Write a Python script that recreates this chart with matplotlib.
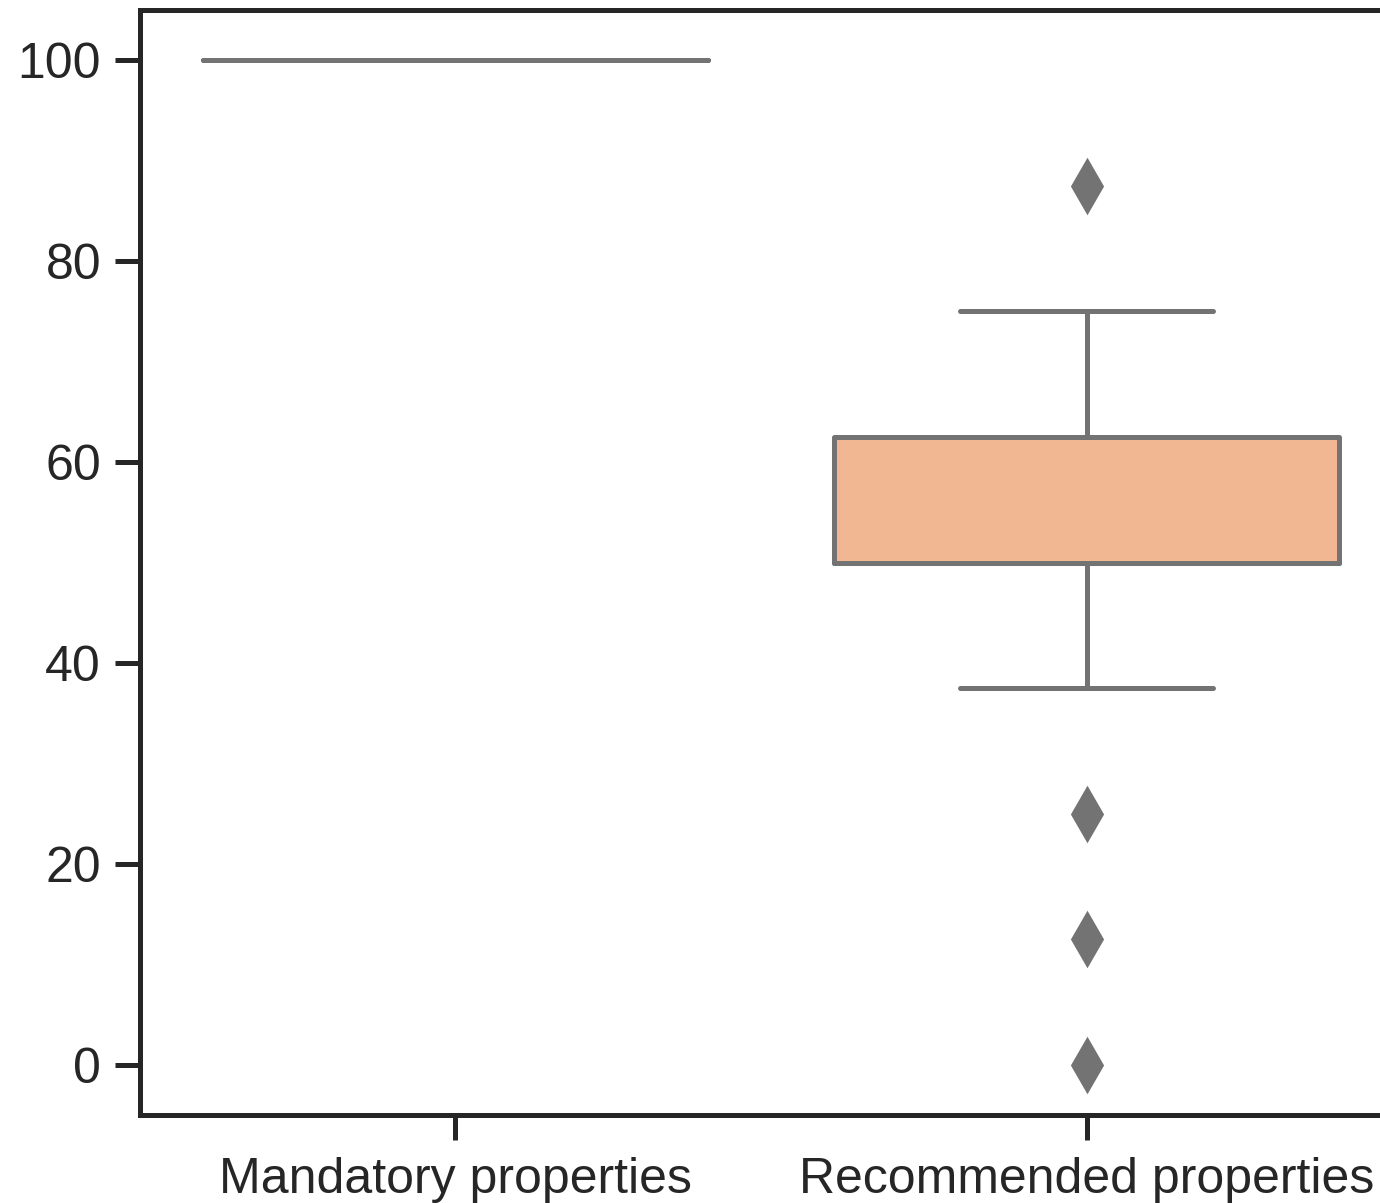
import matplotlib.pyplot as plt

plt.rcParams["font.family"] = ["Liberation Sans", "DejaVu Sans"]

# Box statistics (percent of properties present)
categories = ["Mandatory properties", "Recommended properties"]
q1 = [100, 50]
median = [100, 50]
q3 = [100, 62.5]
whisker_low = [100, 37.5]
whisker_high = [100, 75]
outliers = [[], [87.5, 25, 12.5, 0]]
yticks = [0, 20, 40, 60, 80, 100]

box_colors = ["#A1C9F4", "#F0B792"]
line_color = "#737373"
dark = "#262626"

stats = []
for i, name in enumerate(categories):
    stats.append({
        "label": name,
        "q1": q1[i],
        "med": median[i],
        "q3": q3[i],
        "whislo": whisker_low[i],
        "whishi": whisker_high[i],
        "fliers": outliers[i],
    })

fig = plt.figure(figsize=(6.9, 6.015), dpi=200)
# right edge falls just outside the figure, as in the cropped original
ax = fig.add_axes([0.1014, 0.0731, 0.9146, 0.9186])

lw = 1.8
bp = ax.bxp(
    stats,
    positions=[0, 1],
    widths=0.8,
    patch_artist=True,
    showfliers=True,
    boxprops=dict(edgecolor=line_color, linewidth=lw, joinstyle="round", capstyle="round"),
    whiskerprops=dict(color=line_color, linewidth=lw),
    capprops=dict(color=line_color, linewidth=lw, solid_capstyle="round"),
    medianprops=dict(color=line_color, linewidth=lw, solid_capstyle="round"),
    flierprops=dict(marker="d", markersize=13, markerfacecolor=line_color,
                    markeredgecolor=line_color, linestyle="none"),
    capwidths=0.4,
)
for patch, c in zip(bp["boxes"], box_colors):
    patch.set_facecolor(c)

ax.set_xlim(-0.5, 1.5)
ax.set_ylim(-5, 105)
ax.set_yticks(yticks)
ax.set_xticks([0, 1])
ax.set_xticklabels(categories)

for side in ["left", "right", "top", "bottom"]:
    ax.spines[side].set_color(dark)
    ax.spines[side].set_linewidth(lw)
ax.tick_params(axis="both", colors=dark, labelcolor=dark, labelsize=18,
               width=lw, length=9)
ax.tick_params(axis="y", pad=5)
ax.tick_params(axis="x", pad=6)

fig.savefig("out.png", dpi=200)
